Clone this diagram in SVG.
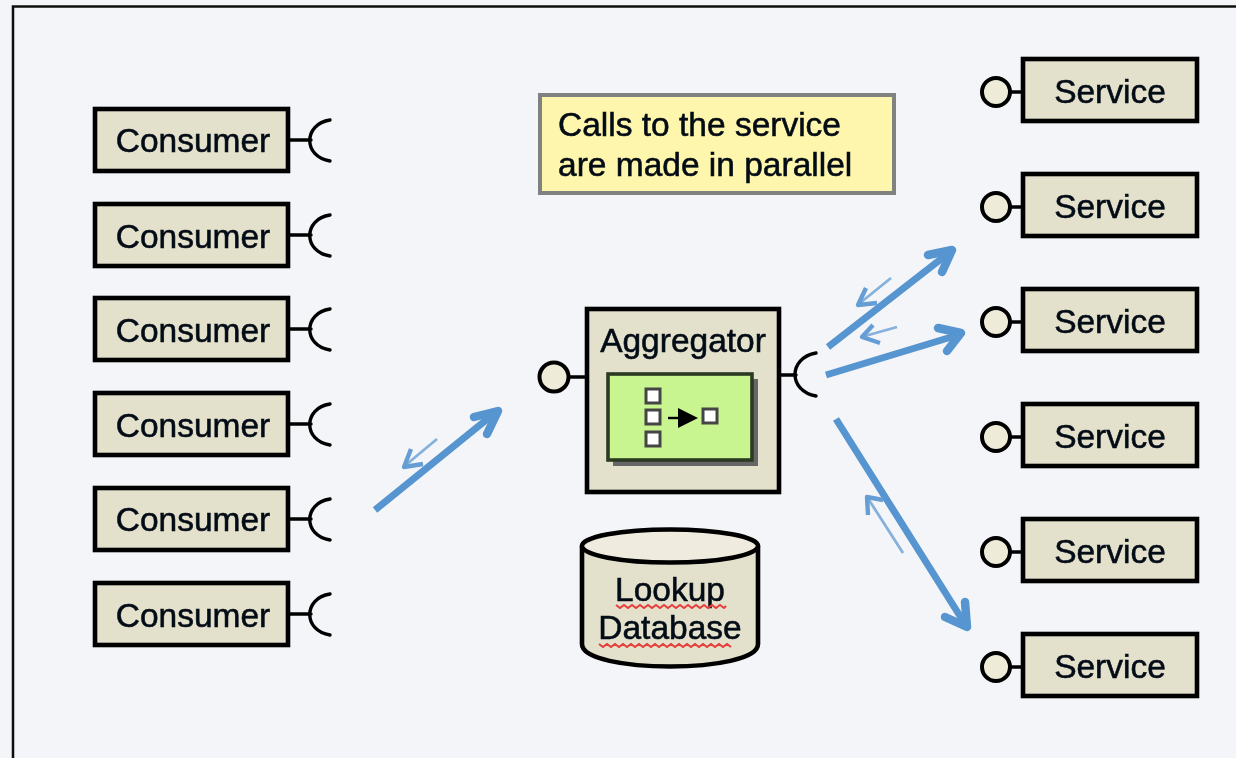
<svg xmlns="http://www.w3.org/2000/svg" width="1236" height="758" viewBox="0 0 1236 758">
<style>
text{font-family:"Liberation Sans",Arial,sans-serif;font-size:33.5px;fill:#050a14;stroke:#050a14;stroke-width:0.55;text-anchor:middle}
.box{fill:#e3e0cc;stroke:#000;stroke-width:4.6}
.lol{fill:#eeebd9;stroke:#000;stroke-width:4}
.wire{fill:none;stroke:#000;stroke-width:3.4;stroke-linecap:round}
.sq{fill:#fff;stroke:#444;stroke-width:3}
.thick{fill:none;stroke:#5795d0;stroke-width:7;stroke-linejoin:miter}
.head{fill:none;stroke:#5795d0;stroke-width:8.500;stroke-linejoin:round;stroke-linecap:round}
.thin{fill:none;stroke:#85b1dc;stroke-width:2.8}
.thinhead{fill:none;stroke:#659dd4;stroke-width:4.400;stroke-linejoin:round}
.squig{fill:none;stroke:#e63c3c;stroke-width:2}
</style>
<defs>
<filter id="soft" filterUnits="userSpaceOnUse" x="0" y="0" width="1236" height="758"><feGaussianBlur stdDeviation="0.55"/></filter>
</defs>
<rect width="1236" height="758" fill="#f4f5f8"/>
<g filter="url(#soft)">
<path id="frame" d="M13 758V6.500H1236" fill="none" stroke="#111" stroke-width="2.500"/>

<g id="consumer1"><rect class="box" x="95" y="109" width="193" height="62"/><path class="wire" d="M288 140H311M330 120C303 124 303 157 330 161"/><text x="193" y="152">Consumer</text></g>
<g id="consumer2"><rect class="box" x="95" y="204" width="193" height="62"/><path class="wire" d="M288 235H311M330 215C303 219 303 252 330 256"/><text x="193" y="248">Consumer</text></g>
<g id="consumer3"><rect class="box" x="95" y="298" width="193" height="62"/><path class="wire" d="M288 329H311M330 309C303 313 303 346 330 350"/><text x="193" y="342">Consumer</text></g>
<g id="consumer4"><rect class="box" x="95" y="393" width="193" height="62"/><path class="wire" d="M288 424H311M330 404C303 408 303 441 330 445"/><text x="193" y="437">Consumer</text></g>
<g id="consumer5"><rect class="box" x="95" y="488" width="193" height="62"/><path class="wire" d="M288 519H311M330 499C303 503 303 536 330 540"/><text x="193" y="531">Consumer</text></g>
<g id="consumer6"><rect class="box" x="95" y="583" width="193" height="62"/><path class="wire" d="M288 614H311M330 594C303 598 303 631 330 635"/><text x="193" y="627">Consumer</text></g>

<g id="service1"><rect class="box" x="1023" y="59" width="174" height="62"/><path class="wire" d="M1010 92H1023"/><circle class="lol" cx="996" cy="92" r="14"/><text x="1110" y="103">Service</text></g>
<g id="service2"><rect class="box" x="1023" y="174" width="174" height="62"/><path class="wire" d="M1010 207H1023"/><circle class="lol" cx="996" cy="207" r="14"/><text x="1110" y="218">Service</text></g>
<g id="service3"><rect class="box" x="1023" y="289" width="174" height="62"/><path class="wire" d="M1010 322H1023"/><circle class="lol" cx="996" cy="322" r="14"/><text x="1110" y="333">Service</text></g>
<g id="service4"><rect class="box" x="1023" y="404" width="174" height="62"/><path class="wire" d="M1010 437H1023"/><circle class="lol" cx="996" cy="437" r="14"/><text x="1110" y="448">Service</text></g>
<g id="service5"><rect class="box" x="1023" y="519" width="174" height="62"/><path class="wire" d="M1010 552H1023"/><circle class="lol" cx="996" cy="552" r="14"/><text x="1110" y="563">Service</text></g>
<g id="service6"><rect class="box" x="1023" y="634" width="174" height="62"/><path class="wire" d="M1010 667H1023"/><circle class="lol" cx="996" cy="667" r="14"/><text x="1110" y="678">Service</text></g>

<g id="note"><rect x="540" y="95" width="354" height="98" fill="#fff6ad" stroke="#808282" stroke-width="4"/><text x="558" y="136" style="text-anchor:start">Calls to the service</text><text x="558" y="176" style="text-anchor:start">are made in parallel</text></g>

<g id="aggregator">
<rect class="box" x="587" y="309" width="192" height="183"/>
<path class="wire" d="M568 377H587M779 375H796M816 353C788 358 788 391 816 396"/>
<circle class="lol" cx="554" cy="377" r="14.500"/>
<text x="683" y="352">Aggregator</text>
<rect x="613" y="379" width="145" height="87" fill="#666"/>
<rect x="608" y="374" width="144" height="86" fill="#c8f590" stroke="#2c3a24" stroke-width="3.600"/>
<rect class="sq" x="646" y="389" width="14" height="14"/>
<rect class="sq" x="646" y="410" width="14" height="14"/>
<rect class="sq" x="646" y="432" width="14" height="14"/>
<rect class="sq" x="703" y="409" width="14" height="14"/>
<path d="M668 418H680" stroke="#000" stroke-width="2.400" fill="none"/>
<path d="M678 408L698 418L678 428Z" fill="#000"/>
</g>

<g id="database">
<path d="M582 546V644C582 674 758 674 758 644V546" fill="#e3e0cc" stroke="#000" stroke-width="4.600"/>
<ellipse cx="670" cy="546" rx="88" ry="16.500" fill="#efecdf" stroke="#000" stroke-width="4.600"/>
<text x="670" y="601">Lookup</text>
<text x="670" y="639">Database</text>
<path class="squig" d="M616 605l4 3l4 -3l4 3l4 -3l4 3l4 -3l4 3l4 -3l4 3l4 -3l4 3l4 -3l4 3l4 -3l4 3l4 -3l4 3l4 -3l4 3l4 -3l4 3l4 -3l4 3l4 -3l4 3l4 -3l4 3l2 -2"/>
<path class="squig" d="M599 644l4 3l4 -3l4 3l4 -3l4 3l4 -3l4 3l4 -3l4 3l4 -3l4 3l4 -3l4 3l4 -3l4 3l4 -3l4 3l4 -3l4 3l4 -3l4 3l4 -3l4 3l4 -3l4 3l4 -3l4 3l4 -3l4 3l4 -3l4 3l4 -3l4 3"/>
</g>

<g id="connectors">
<path class="thick" d="M375 510L496 412"/><path class="head" d="M474 417L498 411L487 434"/>
<path class="thin" d="M437 439L407 464"/><path class="thinhead" d="M411 449L404 467L423 464"/>
<path class="thick" d="M828 347L950 252"/><path class="head" d="M928 255L952 250L942 272"/>
<path class="thin" d="M891 278L860 303"/><path class="thinhead" d="M866 288L858 305L877 303"/>
<path class="thick" d="M826 375L958 335"/><path class="head" d="M938 328L961 333L947 351"/>
<path class="thin" d="M897 327L865 336"/><path class="thinhead" d="M873 325L862 337L880 343"/>
<path class="thick" d="M836 419L965 624"/><path class="head" d="M945 617L967 627L965 602"/>
<path class="thin" d="M903 553L869 500"/><path class="thinhead" d="M868 515L867 497L883 500"/>
</g>
</g>
</svg>
